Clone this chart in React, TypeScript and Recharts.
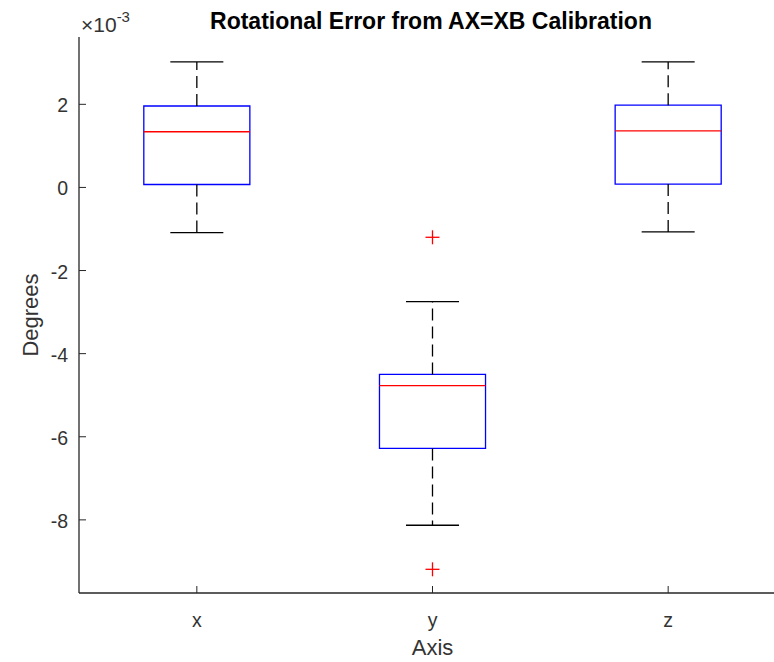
import { ComposedChart, XAxis, YAxis, Scatter, ReferenceArea, ReferenceLine, Label } from 'recharts'

// box plot stats, in units of 1e-3 degrees
const categories = ['x', 'y', 'z']
const positions = [1, 2, 3]
const lowerWhisker = [-1.09, -8.13, -1.07]
const q1 = [0.07, -6.28, 0.08]
const medians = [1.34, -4.77, 1.36]
const q3 = [1.96, -4.5, 1.98]
const upperWhisker = [3.02, -2.75, 3.02]
const outlierPos = [2, 2]
const outlierValues = [-1.2, -9.19]
const yTicks = [-8, -6, -4, -2, 0, 2]

const outliers = outlierPos.map((p, i) => ({ pos: p, value: outlierValues[i] }))

const AXIS = '#262626'
const FONT = '"Liberation Sans", Arial, sans-serif'
const BOX_HALF = 0.225
const CAP_HALF = 0.1125

const LeftTick = ({ x, y, payload }: any) => (
  <g>
    <line x1={x} y1={y} x2={x + 7} y2={y} stroke={AXIS} strokeWidth={1} />
    <text x={x - 11} y={y + 1} textAnchor="end" dominantBaseline="central" fontSize={19.5} fill="#333" fontFamily={FONT}>
      {payload.value}
    </text>
  </g>
)

const RightTick = ({ x, y }: any) => <line x1={x} y1={y} x2={x - 7} y2={y} stroke={AXIS} strokeWidth={1} />

const BottomTick = ({ x, y, payload }: any) => (
  <g>
    <line x1={x} y1={y} x2={x} y2={y - 7} stroke={AXIS} strokeWidth={1} />
    <text x={x} y={y + 34} textAnchor="middle" fontSize={19.5} fill="#333" fontFamily={FONT}>
      {categories[positions.indexOf(payload.value)]}
    </text>
  </g>
)

const TopTick = ({ x, y }: any) => <line x1={x} y1={y} x2={x} y2={y + 7} stroke={AXIS} strokeWidth={1} />

const Plus = ({ cx, cy }: any) => (
  <g>
    <line x1={cx - 7} y1={cy} x2={cx + 7} y2={cy} stroke="#ff0000" strokeWidth={1.3} />
    <line x1={cx} y1={cy - 7} x2={cx} y2={cy + 7} stroke="#ff0000" strokeWidth={1.3} />
  </g>
)

export default function App() {
  return (
    <div style={{ position: 'absolute', left: 0, top: 0, width: 774, height: 662, overflow: 'hidden', background: '#fff' }}>
      <div style={{ position: 'relative', width: 800, height: 662 }}>
        <ComposedChart width={800} height={662} data={outliers} margin={{ top: 37, right: 14, bottom: 0, left: 0 }}>
          <XAxis
            type="number"
            dataKey="pos"
            domain={[0.5, 3.5]}
            ticks={positions}
            allowDataOverflow
            height={69}
            tickSize={0}
            tickMargin={0}
            tick={<BottomTick />}
            axisLine={{ stroke: AXIS, strokeWidth: 1.3 }}
          >
            <Label
              content={({ viewBox }: any) => (
                <text x={viewBox.x + viewBox.width / 2} y={655} textAnchor="middle" fontSize={22} fill="#333" fontFamily={FONT}>
                  Axis
                </text>
              )}
            />
          </XAxis>
          <XAxis
            xAxisId="top"
            orientation="top"
            type="number"
            domain={[0.5, 3.5]}
            ticks={positions}
            allowDataOverflow
            height={0}
            tickSize={0}
            tickMargin={0}
            tick={<TopTick />}
            axisLine={{ stroke: AXIS, strokeWidth: 1.3 }}
          />
          <YAxis
            type="number"
            dataKey="value"
            domain={[-9.76, 3.62]}
            ticks={yTicks}
            allowDataOverflow
            width={79}
            tickSize={0}
            tickMargin={0}
            tick={<LeftTick />}
            axisLine={{ stroke: AXIS, strokeWidth: 1.3 }}
          >
            <Label
              content={({ viewBox }: any) => {
                const cx = 30
                const cy = viewBox.y + viewBox.height / 2
                return (
                  <text x={cx} y={cy} transform={`rotate(-90, ${cx}, ${cy})`} textAnchor="middle" dominantBaseline="central" fontSize={22} fill="#333" fontFamily={FONT}>
                    Degrees
                  </text>
                )
              }}
            />
          </YAxis>
          <YAxis
            yAxisId="right"
            orientation="right"
            type="number"
            domain={[-9.76, 3.62]}
            ticks={yTicks}
            allowDataOverflow
            width={0}
            tickSize={0}
            tickMargin={0}
            tick={<RightTick />}
            axisLine={{ stroke: AXIS, strokeWidth: 1.3 }}
          />

          {positions.map((p, i) => (
            <ReferenceLine
              key={`uw${i}`}
              segment={[{ x: p, y: q3[i] }, { x: p, y: upperWhisker[i] }]}
              stroke="#000"
              strokeWidth={1.3}
              strokeDasharray="12 6"
            />
          ))}
          {positions.map((p, i) => (
            <ReferenceLine
              key={`lw${i}`}
              segment={[{ x: p, y: q1[i] }, { x: p, y: lowerWhisker[i] }]}
              stroke="#000"
              strokeWidth={1.3}
              strokeDasharray="12 6"
            />
          ))}
          {positions.map((p, i) => (
            <ReferenceLine
              key={`uc${i}`}
              segment={[{ x: p - CAP_HALF, y: upperWhisker[i] }, { x: p + CAP_HALF, y: upperWhisker[i] }]}
              stroke="#000"
              strokeWidth={1.3}
            />
          ))}
          {positions.map((p, i) => (
            <ReferenceLine
              key={`lc${i}`}
              segment={[{ x: p - CAP_HALF, y: lowerWhisker[i] }, { x: p + CAP_HALF, y: lowerWhisker[i] }]}
              stroke="#000"
              strokeWidth={1.3}
            />
          ))}
          {positions.map((p, i) => (
            <ReferenceArea
              key={`box${i}`}
              x1={p - BOX_HALF}
              x2={p + BOX_HALF}
              y1={q1[i]}
              y2={q3[i]}
              fill="none"
              fillOpacity={0}
              stroke="#0000ff"
              strokeWidth={1.3}
            />
          ))}
          {positions.map((p, i) => (
            <ReferenceLine
              key={`med${i}`}
              segment={[{ x: p - BOX_HALF, y: medians[i] }, { x: p + BOX_HALF, y: medians[i] }]}
              stroke="#ff0000"
              strokeWidth={1.3}
            />
          ))}
          <Scatter dataKey="value" shape={<Plus />} isAnimationActive={false} />
        </ComposedChart>

        <svg width={800} height={662} style={{ position: 'absolute', left: 0, top: 0, pointerEvents: 'none' }}>
          <text x={431} y={29} textAnchor="middle" fontSize={23} fontWeight="bold" fill="#000" fontFamily={FONT}>
            Rotational Error from AX=XB Calibration
          </text>
          <text x={81} y={32} fontSize={21} fill="#333" fontFamily={FONT}>
            ×10
            <tspan dy={-10} fontSize={15}>-3</tspan>
          </text>
        </svg>
      </div>
    </div>
  )
}
